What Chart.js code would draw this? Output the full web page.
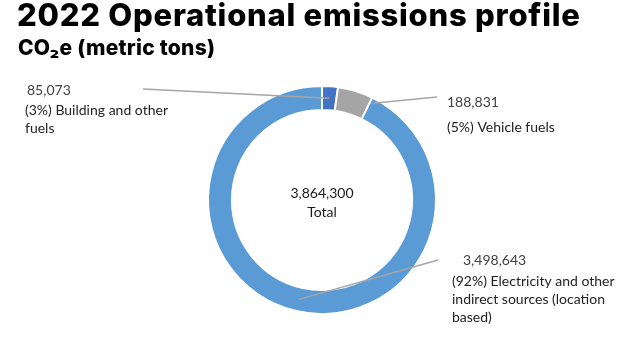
<!DOCTYPE html>
<html>
<head>
<meta charset="utf-8">
<script src="https://cdn.jsdelivr.net/npm/chart.js@4.4.1/dist/chart.umd.min.js"></script>
<style>
  html, body { margin: 0; padding: 0; background: #ffffff; }
  #wrap { position: relative; width: 623px; height: 350px; }
</style>
</head>
<body>
<div id="wrap"><canvas id="c" width="623" height="350"></canvas></div>
<script>
// ---- data ----
const titleText = '2022 Operational emissions profile';
const subtitleText = 'CO\u2082e (metric tons)';
const categories = ['Building and other fuels', 'Vehicle fuels', 'Electricity and other indirect sources (location based)'];
const values = [85073, 188831, 3498643];
const percentLabels = ['3%', '5%', '92%'];
const labelLines = [
  ['(3%) Building and other', 'fuels'],
  ['(5%) Vehicle fuels'],
  ['(92%) Electricity and other', 'indirect sources (location', 'based)']
];
const totalValue = 3864300;
const totalLabel = 'Total';
const colors = ['#4472C4', '#A5A5A5', '#5B9BD5'];

// ---- layout/style (not data) ----
const LABEL_FONT = '14px Lato, "Liberation Sans", sans-serif';
const labelLayout = [
  // anchor on arc: t = fraction along arc, r = fraction through ring (0 inner, 1 outer)
  { t: 0.5, r: 0.5, lineEnd: [143, 89], numXY: [27, 90], textX: 25, textY: 110, gap: 18 },
  { t: 1.09, r: 0.8, lineEnd: [437, 97], numXY: [447, 102], textX: 447, textY: 127, gap: 18 },
  { t: 0.5, r: 0.5, lineEnd: [438, 260], numXY: [463, 260], textX: 452, textY: 281, gap: 18 }
];

const fmt = v => v.toLocaleString('en-US');

const titlePlugin = {
  id: 'titles',
  afterDraw(chart) {
    const ctx = chart.ctx;
    ctx.save();
    ctx.fillStyle = '#000000';
    ctx.textBaseline = 'alphabetic';
    ctx.textAlign = 'left';
    function fitText(txt, font, x, y, target) {
      ctx.font = font;
      ctx.letterSpacing = '0px';
      const w = ctx.measureText(txt).width;
      const ls = (target - w) / (txt.length - 1);
      ctx.letterSpacing = ls.toFixed(2) + 'px';
      ctx.fillText(txt, x, y);
      ctx.letterSpacing = '0px';
    }
    fitText(titleText, '800 31px Inter, "Liberation Sans", sans-serif', 17, 26, 563);
    fitText(subtitleText, '800 21px Inter, "Liberation Sans", sans-serif', 18, 55, 197);
    ctx.restore();
  }
};

const labelPlugin = {
  id: 'leaderLabels',
  afterDatasetsDraw(chart) {
    const ctx = chart.ctx;
    const meta = chart.getDatasetMeta(0);
    ctx.save();
    meta.data.forEach((arc, i) => {
      const p = arc.getProps(['x', 'y', 'startAngle', 'endAngle', 'innerRadius', 'outerRadius'], true);
      const L = labelLayout[i];
      const ang = p.startAngle + (p.endAngle - p.startAngle) * L.t;
      const rad = p.innerRadius + (p.outerRadius - p.innerRadius) * L.r;
      const ax = p.x + Math.cos(ang) * rad;
      const ay = p.y + Math.sin(ang) * rad;
      ctx.strokeStyle = '#A6A6A6';
      ctx.lineWidth = 1.5;
      ctx.beginPath();
      ctx.moveTo(L.lineEnd[0], L.lineEnd[1]);
      ctx.lineTo(ax, ay);
      ctx.stroke();

      ctx.font = LABEL_FONT;
      ctx.textAlign = 'left';
      ctx.textBaseline = 'middle';
      ctx.fillStyle = '#404040';
      ctx.fillText(fmt(values[i]), L.numXY[0], L.numXY[1]);
      ctx.fillStyle = '#222222';
      labelLines[i].forEach((ln, k) => {
        ctx.fillText(ln, L.textX, L.textY + k * L.gap);
      });
    });
    // centre total
    const a0 = meta.data[0];
    ctx.font = LABEL_FONT;
    ctx.textAlign = 'center';
    ctx.textBaseline = 'middle';
    ctx.fillStyle = '#1a1a1a';
    ctx.fillText(fmt(totalValue), a0.x, a0.y - 7);
    ctx.fillText(totalLabel, a0.x, a0.y + 12);
    ctx.restore();
  }
};

new Chart(document.getElementById('c'), {
  type: 'doughnut',
  data: {
    labels: categories,
    datasets: [{
      data: values,
      backgroundColor: colors,
      borderColor: '#ffffff',
      borderWidth: 2,
      hoverBorderWidth: 2,
      hoverOffset: 0
    }]
  },
  options: {
    responsive: false,
    animation: false,
    cutout: '79%',
    rotation: 0,
    layout: { padding: { top: 85, bottom: 35, left: 207, right: 186 } },
    plugins: {
      legend: { display: false },
      tooltip: { enabled: false },
      title: { display: false }
    },
    events: []
  },
  plugins: [labelPlugin, titlePlugin]
});
</script>
</body>
</html>
